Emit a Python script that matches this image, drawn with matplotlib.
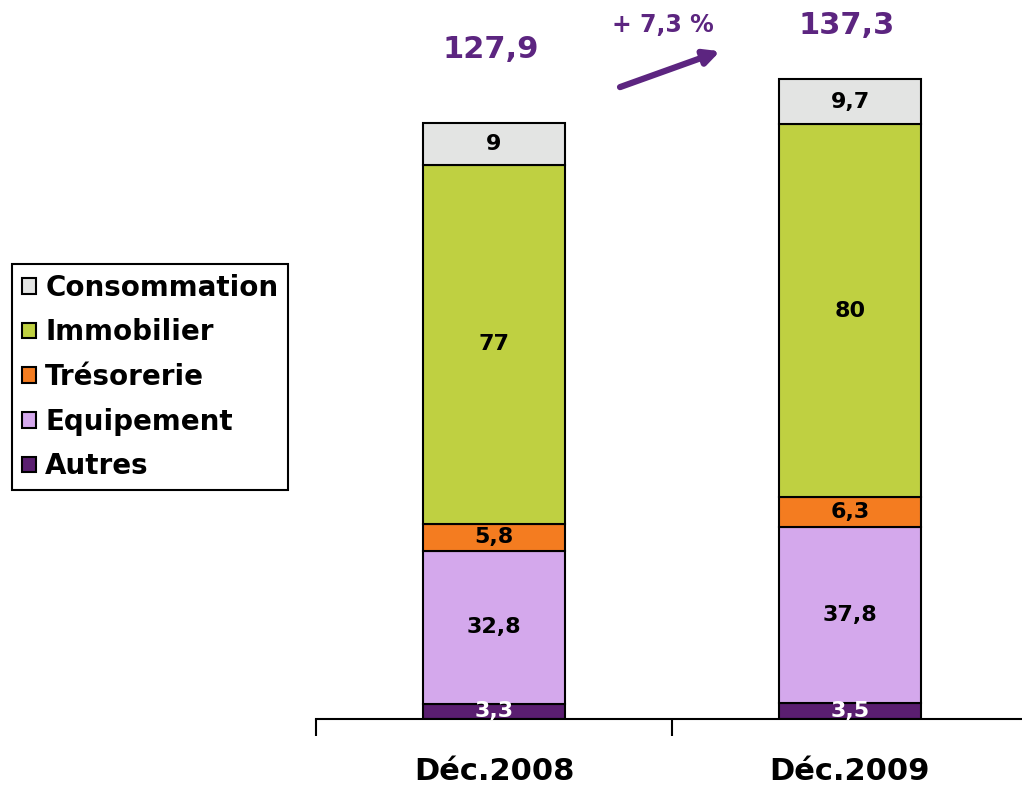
import matplotlib
matplotlib.use("Agg")
import matplotlib.pyplot as plt
import numpy as np

categories = ["Déc.2008", "Déc.2009"]
series_names = ["Autres", "Equipement", "Trésorerie", "Immobilier", "Consommation"]
autres = [3.3, 3.5]
equipement = [32.8, 37.8]
tresorerie = [5.8, 6.3]
immobilier = [77, 80]
consommation = [9, 9.7]
totals = [127.9, 137.3]
growth_label = "+ 7,3 %"

colors = ["#5A1E70", "#D4A8EC", "#F47C20", "#BFD041", "#E3E4E3"]
label_colors = ["white", "black", "black", "black", "black"]
purple = "#5C2580"
total_label_y = [143.6, 148.9]

plt.rcParams['font.family'] = ['DejaVu Sans']

fig = plt.figure(figsize=(10.22, 7.85), dpi=100)
W, H = 1022, 785
ax = fig.add_axes([316 / W, 66 / H, 712 / W, 699 / H])

x = np.arange(len(categories))
data = [autres, equipement, tresorerie, immobilier, consommation]
bottom = np.zeros(len(categories))
handles = []
for vals, name, col, lc in zip(data, series_names, colors, label_colors):
    vals = np.array(vals, dtype=float)
    b = ax.bar(x, vals, width=0.4, bottom=bottom, color=col, edgecolor="black",
               linewidth=1.5, label=name, zorder=2)
    handles.append(b)
    for xi, v, bt in zip(x, vals, bottom):
        ax.text(xi, bt + v / 2, f"{v:g}".replace(".", ","), ha="center", va="center",
                fontsize=16, fontweight="bold", color=lc, zorder=3)
    bottom += vals

for xi, t, ty in zip(x, totals, total_label_y):
    ax.text(xi - 0.01, ty, f"{t:g}".replace(".", ","), ha="center", va="center",
            fontsize=22, fontweight="bold", color=purple, clip_on=False)

ax.annotate("", xy=(0.635, 143.3), xytext=(0.354, 135.6),
            arrowprops=dict(arrowstyle="-|>,head_length=0.9,head_width=0.45",
                            color=purple, lw=4.5, shrinkA=0, shrinkB=0),
            annotation_clip=False)
ax.text(0.475, 148.9, growth_label, ha="center", va="center", fontsize=17,
        fontweight="bold", color=purple, clip_on=False)

ax.set_xlim(-0.5, 1.5)
ax.set_ylim(0, 150)
for s in ["top", "right", "left"]:
    ax.spines[s].set_visible(False)
ax.spines["bottom"].set_linewidth(1.5)
ax.set_yticks([])
ax.set_xticks(x)
ax.set_xticklabels(categories, fontsize=22, fontweight="bold")
ax.tick_params(axis="x", which="major", length=0, pad=27)
ax.set_xticks([-0.5, 0.5, 1.5], minor=True)
ax.tick_params(axis="x", which="minor", length=12, width=1.5, direction="out")

leg = fig.legend(handles[::-1], series_names[::-1], loc="upper left",
                 bbox_to_anchor=(12 / W, 1 - 264 / H), borderaxespad=0,
                 fancybox=False, edgecolor="black", framealpha=1,
                 prop=dict(size=20, weight="bold"), handlelength=0.5,
                 handleheight=0.5, handletextpad=0.35, labelspacing=0.6,
                 borderpad=0.35)
leg.get_frame().set_linewidth(1.5)

fig.savefig("out.png", dpi=100)
